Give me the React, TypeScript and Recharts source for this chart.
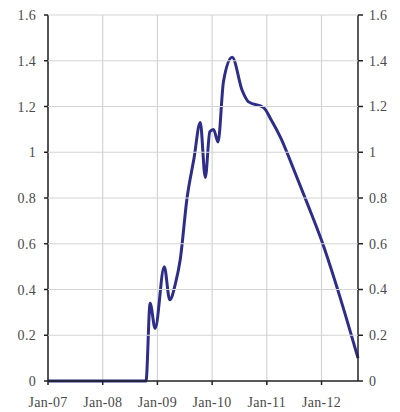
import React from 'react';
import { LineChart, Line, XAxis, YAxis, CartesianGrid } from 'recharts';

// months since Jan 2007
const months = [0, 21.5, 22.4, 23.5, 25.5, 26.7, 28, 29, 30.5, 32, 33.4, 34.5, 35.5, 36.3, 37.3, 38.5, 40.4, 42.6, 44, 47.3, 49, 51, 54, 57, 60, 64, 68];
const values = [0, 0, 0.34, 0.23, 0.5, 0.355, 0.43, 0.53, 0.8, 0.97, 1.13, 0.89, 1.09, 1.1, 1.045, 1.31, 1.415, 1.27, 1.22, 1.195, 1.14, 1.065, 0.92, 0.77, 0.615, 0.37, 0.1];

const xTicks = [0, 12, 24, 36, 48, 60];
const xLabels = ['Jan-07', 'Jan-08', 'Jan-09', 'Jan-10', 'Jan-11', 'Jan-12'];
const yTicks = [0, 0.2, 0.4, 0.6, 0.8, 1, 1.2, 1.4, 1.6];

const data = months.map((m, i) => ({ m, v: values[i] }));

const W = 400;
const H = 412;
const LEFT_W = 48;
const RIGHT_W = 42;
const PLOT_W = W - LEFT_W - RIGHT_W;

const tickStyle = { fontFamily: 'Liberation Serif', fontSize: 14, fill: '#4a4a4a', letterSpacing: 0.3 };

// left tick label plus a horizontal grid line across the plot
const LeftTick = (props: any) => {
  const { x, y, payload } = props;
  const axisX = x + 12;
  return (
    <g>
      {payload.value !== 0 && (
        <line x1={axisX} x2={axisX + PLOT_W} y1={y} y2={y} stroke="#d4d4d4" strokeWidth={1.2} />
      )}
      <text x={x} y={y} dy={5} textAnchor="end" {...tickStyle}>
        {String(payload.value)}
      </text>
    </g>
  );
};

export default function App() {
  return (
    <div style={{ position: 'absolute', left: 0, top: 0, width: W, height: H, background: '#fff' }}>
      <LineChart width={W} height={H} data={data} margin={{ top: 15, right: 0, bottom: 0, left: 0 }}>
        <CartesianGrid stroke="#d4d4d4" strokeWidth={1.2} horizontal={false} verticalValues={xTicks} />
        <XAxis
          dataKey="m"
          type="number"
          domain={[0, 68]}
          ticks={xTicks}
          tickFormatter={(v: number) => xLabels[xTicks.indexOf(v)]}
          height={31}
          stroke="#222"
          strokeWidth={1.5}
          tickSize={4}
          tickMargin={12}
          tick={tickStyle}
          interval={0}
        />
        <YAxis
          type="number"
          domain={[0, 1.6]}
          ticks={yTicks}
          width={LEFT_W}
          stroke="#222"
          strokeWidth={1.5}
          tickSize={4}
          tickMargin={8}
          tick={<LeftTick />}
          interval={0}
        />
        <YAxis
          yAxisId="right"
          type="number"
          orientation="right"
          domain={[0, 1.6]}
          ticks={yTicks}
          width={RIGHT_W}
          stroke="#222"
          strokeWidth={1.5}
          tickSize={5}
          tickMargin={6}
          tick={{ ...tickStyle, textAnchor: 'start' }}
          interval={0}
        />
        <Line
          yAxisId="right"
          type="monotone"
          dataKey="v"
          stroke="none"
          dot={false}
          legendType="none"
          isAnimationActive={false}
        />
        <Line
          type="monotone"
          dataKey="v"
          stroke="#2e2e8a"
          strokeWidth={3}
          dot={false}
          isAnimationActive={false}
        />
      </LineChart>
    </div>
  );
}
